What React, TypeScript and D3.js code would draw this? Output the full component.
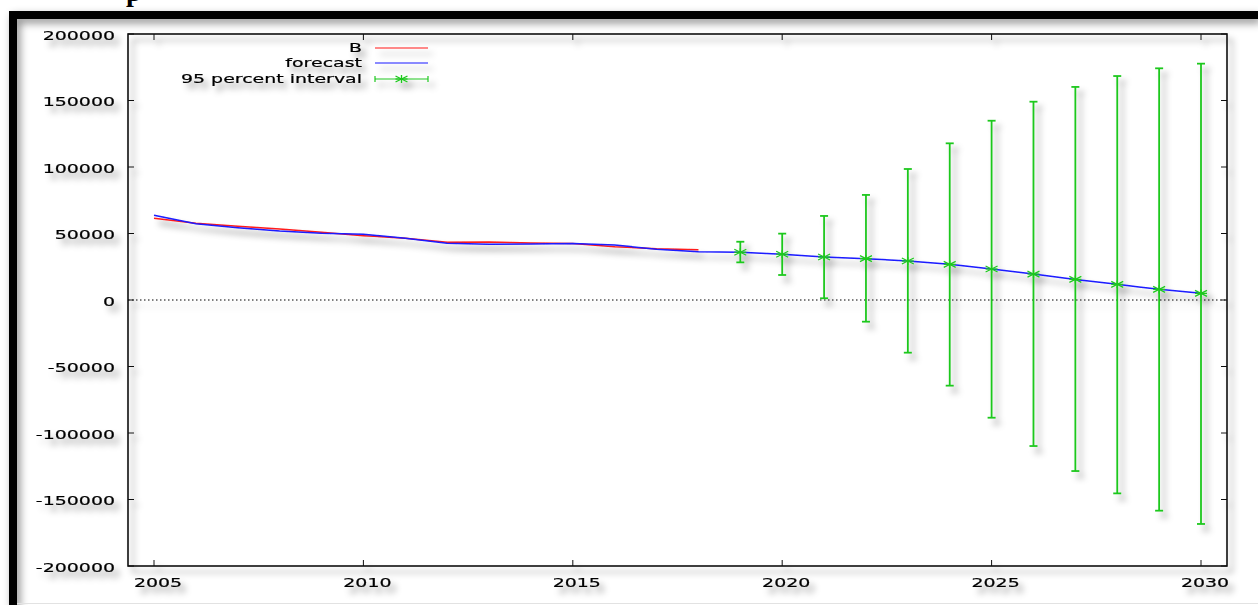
import React from 'react';
import * as d3 from 'd3';

// observed series B
const bYears = [2005, 2006, 2007, 2008, 2009, 2010, 2011, 2012, 2013, 2014, 2015, 2016, 2017, 2018];
const bValues = [61400, 57700, 55400, 53400, 50900, 48400, 46400, 43400, 43600, 42900, 42400, 40100, 38600, 37800];

// fitted values (in-sample part of the forecast line)
const fitYears = [2005, 2006, 2007, 2008, 2009, 2010, 2011, 2012, 2013, 2014, 2015, 2016, 2017, 2018];
const fitValues = [63700, 57300, 54400, 51900, 50100, 49400, 46400, 42600, 41900, 42100, 42400, 41400, 38100, 36200];

// out-of-sample forecast with 95 percent interval
const fcYears = [2019, 2020, 2021, 2022, 2023, 2024, 2025, 2026, 2027, 2028, 2029, 2030];
const fcValues = [35900, 34400, 32300, 31100, 29300, 26800, 23300, 19500, 15500, 11800, 8000, 5000];
const fcUpper = [43800, 49900, 63200, 79000, 98500, 117800, 134800, 149100, 160200, 168400, 174200, 177700];
const fcLower = [28300, 18800, 1300, -16300, -39600, -64400, -88500, -109800, -128600, -145400, -158400, -168400];

const xTicks = [2005, 2010, 2015, 2020, 2025, 2030];
const yTicks = [-200000, -150000, -100000, -50000, 0, 50000, 100000, 150000, 200000];
const legendLabels = ['B', 'forecast', '95 percent interval'];

const W = 1258;
const H = 605;
const plot = { left: 128, right: 1227, top: 34, bottom: 566 };
const FONT = 'DejaVu Sans, Verdana, sans-serif';
const SX = 1.58; // the picture is stretched sideways
const RED = '#ff1a1a';
const BLUE = '#1a1aff';
const GREEN = '#1ec81e';

const Label = ({ x, y, anchor, children }: { x: number; y: number; anchor: string; children: React.ReactNode }) => (
  <text
    transform={`translate(${x},${y}) scale(${SX},1)`}
    textAnchor={anchor}
    fontFamily={FONT}
    fontSize={12}
    fill="#000"
    stroke="#000"
    strokeWidth={0.2}
  >
    {children}
  </text>
);

const Star = ({ cx, cy }: { cx: number; cy: number }) => (
  <g stroke={GREEN} strokeWidth={1.3}>
    <line x1={cx - 6} y1={cy} x2={cx + 6} y2={cy} />
    <line x1={cx - 6} y1={cy - 3} x2={cx + 6} y2={cy + 3} />
    <line x1={cx - 6} y1={cy + 3} x2={cx + 6} y2={cy - 3} />
    <line x1={cx} y1={cy - 4} x2={cx} y2={cy + 4} />
  </g>
);

export default function App() {
  const x = d3.scaleLinear().domain([2005, 2030]).range([154, 1201]);
  const y = d3.scaleLinear().domain([-200000, 200000]).range([plot.bottom, plot.top]);

  const line = d3
    .line<[number, number]>()
    .x((d) => x(d[0]))
    .y((d) => y(d[1]));

  const bPath = line(bYears.map((yr, i) => [yr, bValues[i]]));
  const fcPath = line(
    fitYears.map((yr, i) => [yr, fitValues[i]] as [number, number]).concat(fcYears.map((yr, i) => [yr, fcValues[i]]))
  );

  const tick = 6;
  const legendX0 = 375;
  const legendX1 = 428;
  const legendRows = [48, 63, 79];

  return (
    <svg width={W} height={H} style={{ position: 'absolute', left: 0, top: 0, background: '#fff' }}>
      <defs>
        <filter id="shadow" filterUnits="userSpaceOnUse" x={0} y={0} width={W} height={H}>
          <feDropShadow dx={5} dy={6} stdDeviation={3} floodColor="#000" floodOpacity={0.38} />
        </filter>
        <filter id="frameShadow" filterUnits="userSpaceOnUse" x={0} y={0} width={W} height={H}>
          <feDropShadow dx={3} dy={4} stdDeviation={4} floodColor="#000" floodOpacity={0.45} />
        </filter>
      </defs>

      {/* cut-off title */}
      <text x={126} y={1} fontFamily="Liberation Serif, serif" fontWeight="bold" fontSize={28} fill="#000">
        p
      </text>

      {/* outer frame */}
      <g filter="url(#frameShadow)">
        <rect x={9} y={11} width={W - 9} height={8} fill="#000" />
        <rect x={9} y={11} width={8} height={H - 11} fill="#000" />
      </g>
      <line x1={17} x2={W} y1={603.5} y2={603.5} stroke="#e2e2e2" />

      <g filter="url(#shadow)">
        {/* zero line */}
        <line
          x1={plot.left}
          x2={plot.right}
          y1={y(0)}
          y2={y(0)}
          stroke="#000"
          strokeWidth={1}
          strokeDasharray="1.5,2.5"
        />

        {/* border and ticks */}
        <rect
          x={plot.left}
          y={plot.top}
          width={plot.right - plot.left}
          height={plot.bottom - plot.top}
          fill="none"
          stroke="#111"
          strokeWidth={1.6}
        />
        {yTicks.map((t) => (
          <g key={t} stroke="#111" strokeWidth={1}>
            <line x1={plot.left} x2={plot.left + tick} y1={y(t)} y2={y(t)} />
            <line x1={plot.right} x2={plot.right - tick} y1={y(t)} y2={y(t)} />
          </g>
        ))}
        {xTicks.map((t) => (
          <g key={t} stroke="#111" strokeWidth={1}>
            <line x1={x(t)} x2={x(t)} y1={plot.bottom} y2={plot.bottom - tick} />
            <line x1={x(t)} x2={x(t)} y1={plot.top} y2={plot.top + tick} />
          </g>
        ))}
        {yTicks.map((t) => (
          <Label key={t} x={115} y={y(t) + 5.5} anchor="end">
            {t}
          </Label>
        ))}
        {xTicks.map((t) => (
          <Label key={t} x={x(t) + 4} y={plot.bottom + 21} anchor="middle">
            {t}
          </Label>
        ))}

        {/* series */}
        <path d={bPath ?? ''} fill="none" stroke={RED} strokeWidth={1.5} />
        <path d={fcPath ?? ''} fill="none" stroke={BLUE} strokeWidth={1.5} />

        {fcYears.map((yr, i) => (
          <g key={yr}>
            <g stroke={GREEN} strokeWidth={1.8}>
              <line x1={x(yr)} x2={x(yr)} y1={y(fcUpper[i])} y2={y(fcLower[i])} />
              <line x1={x(yr) - 4} x2={x(yr) + 4} y1={y(fcUpper[i])} y2={y(fcUpper[i])} />
              <line x1={x(yr) - 4} x2={x(yr) + 4} y1={y(fcLower[i])} y2={y(fcLower[i])} />
            </g>
            <Star cx={x(yr)} cy={y(fcValues[i])} />
          </g>
        ))}

        {/* legend */}
        {legendLabels.map((lab, i) => (
          <Label key={lab} x={362} y={legendRows[i] + 4} anchor="end">
            {lab}
          </Label>
        ))}
        <line x1={legendX0} x2={legendX1} y1={legendRows[0]} y2={legendRows[0]} stroke={RED} strokeWidth={1} />
        <line x1={legendX0} x2={legendX1} y1={legendRows[1]} y2={legendRows[1]} stroke={BLUE} strokeWidth={1} />
        <g stroke={GREEN} strokeWidth={1.2}>
          <line x1={legendX0} x2={legendX1} y1={legendRows[2]} y2={legendRows[2]} />
          <line x1={legendX0} x2={legendX0} y1={legendRows[2] - 3} y2={legendRows[2] + 3} />
          <line x1={legendX1} x2={legendX1} y1={legendRows[2] - 3} y2={legendRows[2] + 3} />
        </g>
        <Star cx={(legendX0 + legendX1) / 2} cy={legendRows[2]} />
      </g>
    </svg>
  );
}
